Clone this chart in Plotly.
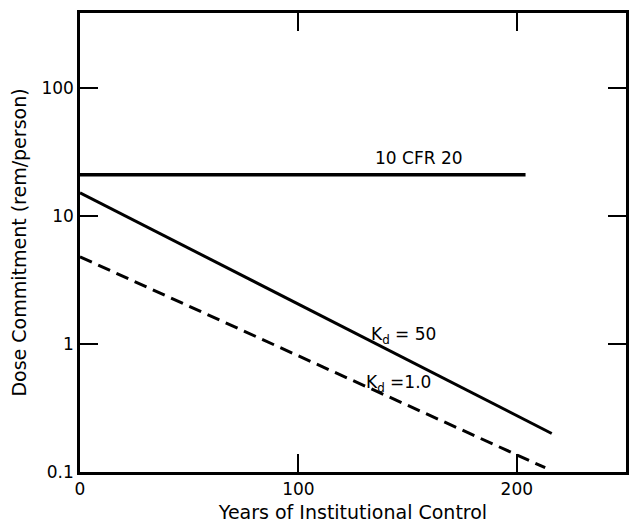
import plotly.graph_objects as go

# Data (years vs dose commitment, rem/person)
cfr_years = [0, 204]
cfr_dose = [21, 21]

kd50_years = [0, 216]
kd50_dose = [15.2, 0.20]

kd1_years = [0, 213]
kd1_dose = [4.8, 0.108]

x_ticks = [0, 100, 200]
y_ticks = [0.1, 1, 10, 100]
y_tick_labels = ["0.1", "1", "10", "100"]

# label texts and their positions (x in years, y as log10 of dose)
labels = ["10 CFR 20", "K<sub>d</sub> = 50", "K<sub>d</sub> =1.0"]
label_x = [155, 148, 146]
label_logy = [1.453, 0.07, -0.305]

FONT = "DejaVu Sans"

fig = go.Figure()
fig.add_trace(go.Scatter(x=cfr_years, y=cfr_dose, mode="lines",
                         line=dict(color="black", width=3.4), showlegend=False))
fig.add_trace(go.Scatter(x=kd50_years, y=kd50_dose, mode="lines",
                         line=dict(color="black", width=3), showlegend=False))
fig.add_trace(go.Scatter(x=kd1_years, y=kd1_dose, mode="lines",
                         line=dict(color="black", width=3, dash="13px,7px"),
                         showlegend=False))

for t, lx, ly in zip(labels, label_x, label_logy):
    fig.add_annotation(x=lx, y=ly, xref="x", yref="y", text=t, showarrow=False,
                       font=dict(family=FONT, size=17, color="black"),
                       xanchor="center", yanchor="middle")

fig.update_layout(
    width=631, height=529,
    margin=dict(l=80, r=2, t=13, b=57),
    paper_bgcolor="white", plot_bgcolor="white",
    font=dict(family=FONT, size=16, color="black"),
    xaxis=dict(range=[0, 250], tickvals=x_ticks, ticks="inside", ticklen=18,
               tickwidth=1.5, tickcolor="black", mirror="ticks", showline=True,
               linecolor="black", linewidth=2.5, showgrid=False, zeroline=False,
               tickfont=dict(size=17),
               title=dict(text="Years of Institutional Control", standoff=8,
                          font=dict(size=19))),
    yaxis=dict(type="log", range=[-1, 2.586], tickvals=y_ticks, ticktext=y_tick_labels,
               ticks="inside", ticklen=18, tickwidth=1.5, tickcolor="black",
               mirror="ticks", showline=True, linecolor="black", linewidth=2.5,
               showgrid=False, zeroline=False, tickfont=dict(size=17),
               title=dict(text="Dose Commitment (rem/person)", standoff=10,
                          font=dict(size=19))),
)

fig.write_html(
    "out.html",
    config={"displayModeBar": False},
    post_script="document.body.style.margin='0px';document.body.style.overflow='hidden';",
)
